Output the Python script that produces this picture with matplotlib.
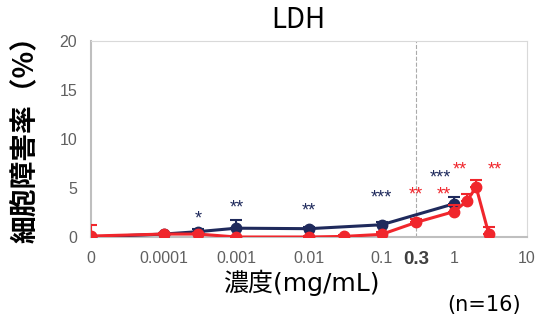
import matplotlib
matplotlib.use('Agg')
import matplotlib.pyplot as plt
import numpy as np

# 濃度 (mg/mL); 0 は対数軸の左端に置く
navy_conc = [0, 0.0001, 0.0003, 0.001, 0.01, 0.1, 1]
navy_val = [0.0, 0.3, 0.55, 0.9, 0.85, 1.25, 3.4]
navy_err = [0.0, 0.15, 0.25, 0.8, 0.2, 0.25, 0.7]

red_conc = [0, 0.0001, 0.0003, 0.001, 0.01, 0.03, 0.1, 0.3, 1, 1.5, 2, 3]
red_val = [0.1, 0.3, 0.3, 0.0, 0.0, 0.06, 0.27, 1.5, 2.6, 3.7, 5.1, 0.27]
red_err = [1.1, 0.1, 0.1, 0.1, 0.1, 0.1, 0.2, 0.3, 0.7, 0.7, 0.7, 0.8]

# 有意差マーク (x, y, text)
navy_marks = [(0.0003, 1.8, '*'), (0.001, 3.0, '**'), (0.01, 2.7, '**'),
              (0.1, 4.0, '***'), (0.65, 6.0, '***')]
red_marks = [(0.3, 4.3, '**'), (0.72, 4.3, '**'), (1.2, 6.8, '**'), (3.6, 6.8, '**')]

xtick_vals = [0, 0.0001, 0.001, 0.01, 0.1, 1, 10]
xtick_labels = ['0', '0.0001', '0.001', '0.01', '0.1', '1', '10']
yticks = [0, 5, 10, 15, 20]

ZERO_POS = 1e-5
NAVY = '#1f2a5c'
RED = '#f0262c'
JP = ['Noto Sans CJK JP', 'DejaVu Sans']
MIX = ['DejaVu Sans', 'Noto Sans CJK JP']


def pos(xs):
    xs = np.array(xs, dtype=float)
    return np.where(xs == 0, ZERO_POS, xs)


fig = plt.figure(figsize=(5.36, 3.24), dpi=100)
ax = fig.add_axes([0.170, 0.2685, 0.813, 0.6045])

ax.set_xscale('log')
ax.set_xlim(ZERO_POS, 10)
ax.set_ylim(0, 20)

ax.errorbar(pos(navy_conc), navy_val, yerr=[np.zeros(len(navy_err)), navy_err],
            color=NAVY, lw=2.2, marker='o', ms=7.5, capsize=4, capthick=1.5,
            elinewidth=1.5, zorder=3)
ax.errorbar(pos(red_conc), red_val, yerr=[np.zeros(len(red_err)), red_err],
            color=RED, lw=2.2, marker='o', ms=7.5, capsize=4, capthick=1.5,
            elinewidth=1.5, zorder=4)

for x, y, t in navy_marks:
    ax.text(x, y, t, color=NAVY, ha='center', va='center', fontsize=13,
            family='Liberation Sans')
for x, y, t in red_marks:
    ax.text(x, y, t, color=RED, ha='center', va='center', fontsize=13,
            family='Liberation Sans')

ax.axvline(0.3, color='#aaaaaa', ls='--', lw=0.8, zorder=1)

ax.set_xticks(pos(xtick_vals))
ax.set_xticklabels(xtick_labels)
ax.minorticks_off()
ax.set_yticks(yticks)
ax.tick_params(length=0, labelsize=11.5, labelcolor='#606060', pad=10)
for lab in ax.get_xticklabels() + ax.get_yticklabels():
    lab.set_family('Liberation Sans')
ax.text(0.3, -0.07, '0.3', transform=ax.get_xaxis_transform(), ha='center',
        va='top', fontsize=13.5, fontweight='bold', color='#404040',
        family='Liberation Sans')

for s in ['top', 'right']:
    ax.spines[s].set_color('#d9d9d9')
for s in ['left', 'bottom']:
    ax.spines[s].set_color('#bfbfbf')
    ax.spines[s].set_linewidth(1.5)

fig.text(0.557, 0.938, 'LDH', ha='center', va='center', fontsize=20, family=JP)
fig.text(0.047, 0.59, '細胞障害率（%）', rotation=90, ha='center', va='center',
         fontsize=20, fontweight='bold', family=JP)
fig.text(0.562, 0.127, '濃度(mg/mL)', ha='center', va='center', fontsize=18, family=MIX)
fig.text(0.903, 0.059, '(n=16)', ha='center', va='center', fontsize=15, family=MIX)

plt.savefig('out.png', dpi=100)
plt.close()
